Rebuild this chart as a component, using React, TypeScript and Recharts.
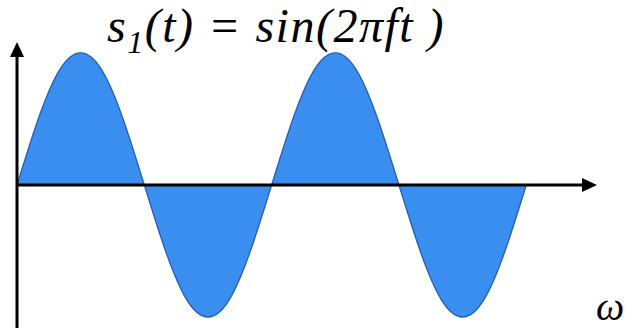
import { AreaChart, Area, XAxis, YAxis, ReferenceLine } from "recharts";

// phase in degrees (two full periods) and normalised amplitude
const angleDeg = [0, 30, 60, 90, 120, 150, 180, 210, 240, 270, 300, 330, 360, 390, 420, 450, 480, 510, 540, 570, 600, 630, 660, 690, 720];
const amplitude = [0, 0.5, 0.87, 1, 0.87, 0.5, 0, -0.5, -0.87, -1, -0.87, -0.5, 0, 0.5, 0.87, 1, 0.87, 0.5, 0, -0.5, -0.87, -1, -0.87, -0.5, 0];

const xDomain = [0, 820];
const yDomain = [-1.083, 1.083];

const data = angleDeg.map((deg, i) => ({ deg, s: amplitude[i] }));

const serif = "'Liberation Serif', 'DejaVu Serif', serif";

function HorizontalArrow(props: any) {
  const { x1, x2, y1 } = props;
  const left = Math.min(x1, x2);
  const right = Math.max(x1, x2);
  return (
    <g>
      <line x1={left} y1={y1} x2={right - 10} y2={y1} stroke="#000" strokeWidth={3} />
      <polygon points={`${right},${y1} ${right - 15},${y1 - 7} ${right - 15},${y1 + 7}`} fill="#000" />
    </g>
  );
}

function VerticalArrow(props: any) {
  const { x1, y1, y2 } = props;
  const top = Math.min(y1, y2);
  const bottom = Math.max(y1, y2);
  return (
    <g>
      <line x1={x1} y1={top + 10} x2={x1} y2={bottom} stroke="#000" strokeWidth={3} />
      <polygon points={`${x1},${top} ${x1 - 7},${top + 15} ${x1 + 7},${top + 15}`} fill="#000" />
    </g>
  );
}

export default function App() {
  return (
    <div style={{ position: "absolute", left: 0, top: 0, width: 625, height: 328, background: "#fff" }}>
      <AreaChart width={625} height={328} data={data} margin={{ top: 42, right: 28, bottom: 0, left: 17 }}>
        <XAxis dataKey="deg" type="number" domain={xDomain} hide allowDataOverflow />
        <YAxis type="number" domain={yDomain} hide allowDataOverflow />
        <Area
          type="natural"
          dataKey="s"
          baseValue={0}
          stroke="#2459b0"
          strokeWidth={1.2}
          fill="#3a8eef"
          fillOpacity={1}
          isAnimationActive={false}
        />
        <ReferenceLine y={0} shape={HorizontalArrow} />
        <ReferenceLine x={0} shape={VerticalArrow} />
      </AreaChart>
      <div
        style={{
          position: "absolute",
          left: 107,
          top: 1,
          fontFamily: serif,
          fontStyle: "italic",
          fontSize: 48,
          lineHeight: "50px",
          letterSpacing: 1.5,
          color: "#000",
          whiteSpace: "pre",
        }}
      >
        s<span style={{ fontSize: 32, position: "relative", top: 11 }}>1</span>(t) = sin(2<span>π</span>ft )
      </div>
      <div
        style={{
          position: "absolute",
          left: 596,
          top: 285,
          fontFamily: serif,
          fontStyle: "italic",
          fontSize: 40,
          lineHeight: "44px",
          color: "#000",
        }}
      >
        ω
      </div>
    </div>
  );
}
